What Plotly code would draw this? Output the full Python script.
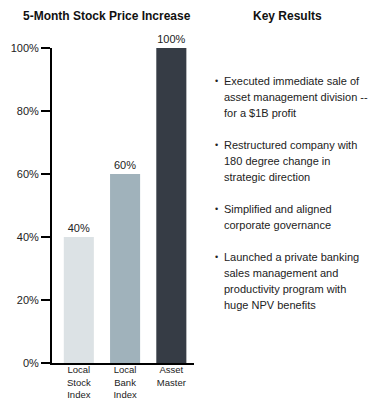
import plotly.graph_objects as go

categories = ["Local<br>Stock<br>Index", "Local<br>Bank<br>Index", "Asset<br>Master"]
values = [40, 60, 100]
value_labels = ["40%", "60%", "100%"]
bar_colors = ["#dce2e5", "#a0b2bb", "#363c45"]
y_ticks = [0, 20, 40, 60, 80, 100]
y_tick_labels = ["0%", "20%", "40%", "60%", "80%", "100%"]
chart_title = "5-Month Stock Price Increase"
side_title = "Key Results"
key_results = [
    ["Executed immediate sale of", "asset management division --", "for a $1B profit"],
    ["Restructured company with", "180 degree change in", "strategic direction"],
    ["Simplified and aligned", "corporate governance"],
    ["Launched a private banking", "sales management and", "productivity program with", "huge NPV benefits"],
]

W, H = 388, 400
L, R, T, B = 52, 194, 48, 37
plot_w = W - L - R
plot_h = H - T - B

def px_x(px):
    return (px - L) / plot_w

def px_y(py):
    return (H - B - py) / plot_h

FONT = "Liberation Sans, Arial, sans-serif"
TXT = "#222222"

idx = list(range(len(categories)))
fig = go.Figure()
fig.add_trace(go.Bar(
    x=idx, y=values, width=0.65,
    marker=dict(color=bar_colors, line=dict(width=0)),
    text=value_labels, textposition="outside", cliponaxis=False,
    textfont=dict(family=FONT, size=11, color=TXT),
    hoverinfo="skip",
))

annotations = []
# titles
annotations.append(dict(x=px_x(107), y=px_y(16), xref="paper", yref="paper",
                        text="<b>" + chart_title + "</b>", showarrow=False,
                        xanchor="center", yanchor="middle",
                        font=dict(family=FONT, size=12, color="#111111")))
annotations.append(dict(x=px_x(287), y=px_y(16), xref="paper", yref="paper",
                        text="<b>" + side_title + "</b>", showarrow=False,
                        xanchor="center", yanchor="middle",
                        font=dict(family=FONT, size=12, color="#111111")))

# key results bullets
py = 81
for para in key_results:
    annotations.append(dict(x=px_x(216.5), y=px_y(py), xref="paper", yref="paper",
                            text="•", showarrow=False, xanchor="center", yanchor="middle",
                            font=dict(family=FONT, size=9, color=TXT)))
    for line in para:
        annotations.append(dict(x=px_x(222), y=px_y(py), xref="paper", yref="paper",
                                text=line, showarrow=False, xanchor="left", yanchor="middle",
                                font=dict(family=FONT, size=11, color=TXT)))
        py += 16
    py += 16

fig.update_layout(
    width=W, height=H,
    margin=dict(l=L, r=R, t=T, b=B, pad=0, autoexpand=False),
    paper_bgcolor="white", plot_bgcolor="white",
    showlegend=False,
    font=dict(family=FONT, size=11, color=TXT),
    xaxis=dict(range=[-0.58, 2.49], showline=True, linewidth=2, linecolor="black",
               tickvals=idx, ticktext=categories, ticks="", ticklabelstandoff=-3,
               tickfont=dict(family=FONT, size=9.5, color=TXT), automargin=False,
               showgrid=False, zeroline=False, fixedrange=True),
    yaxis=dict(range=[0, 100], tickvals=y_ticks, ticktext=y_tick_labels,
               showline=True, linewidth=2, linecolor="black", automargin=False,
               ticks="outside", ticklen=9, tickwidth=2, tickcolor="black",
               showgrid=False, zeroline=False, fixedrange=True,
               tickfont=dict(family=FONT, size=11, color=TXT)),
    annotations=annotations,
)

fig.write_html("out.html", config={"displayModeBar": False},
               post_script="document.body.style.margin='0';document.body.style.padding='0';")
